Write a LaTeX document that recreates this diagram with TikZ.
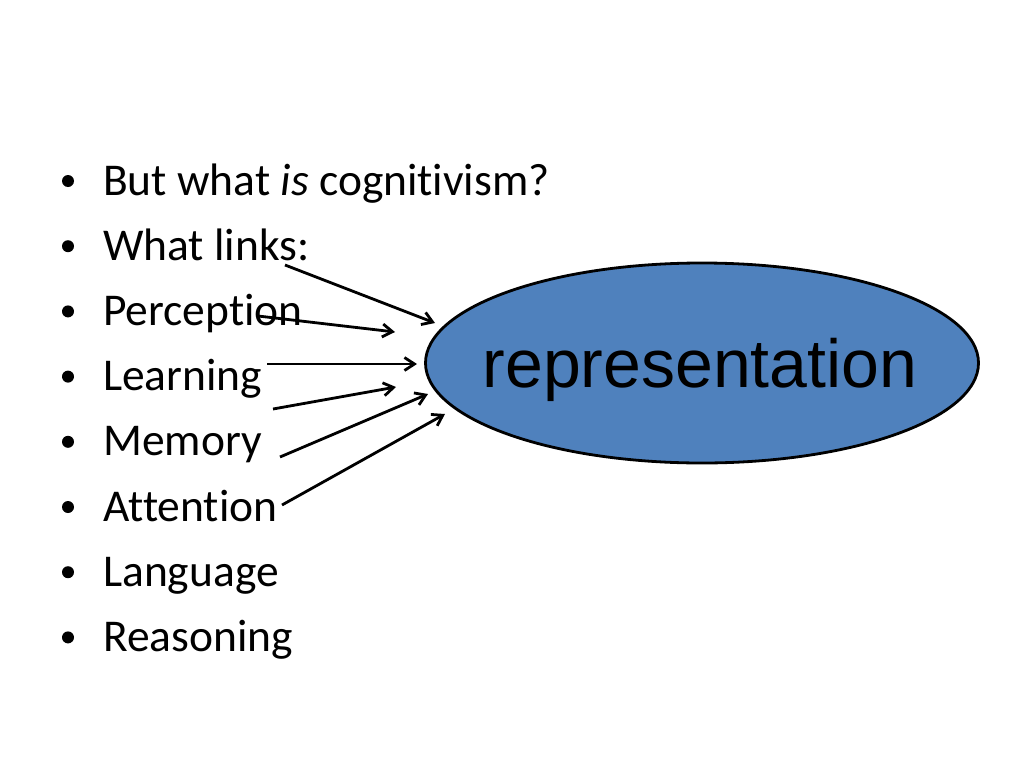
\documentclass[tikz,border=0pt]{standalone}
\usepackage{fontspec}
\setmainfont[RawFeature={-liga;-clig}]{Carlito}
\newfontfamily\arialfont{Liberation Sans}
\usetikzlibrary{arrows.meta,shapes.geometric}
\definecolor{ellblue}{HTML}{4F81BD}
\begin{document}
\begin{tikzpicture}[x=1pt,y=-1pt,
  itemtext/.style={anchor=base west,inner sep=0pt,font=\fontsize{45.5}{54}\selectfont},
  bulletdot/.style={circle,fill=black,inner sep=0pt,minimum size=12pt},
  link/.style={line width=2.8pt,-{Straight Barb[length=10pt,width=13pt,line width=2.8pt]}}]
\useasboundingbox (0,0) rectangle (1024,768);
\fill[white] (0,0) rectangle (1024,768);
% bullets and items
\foreach \i/\t [count=\k from 0] in {a/{But what \textit{is} cognitivism?},b/{What links:},c/{Perception},d/{Learning},e/{Memory},f/{Attention},g/{Language},h/{Reasoning}}{
  \node[itemtext] (item\i) at (103,{195+65.2*\k}) {\t};
  \node[bulletdot] (bul\i) at (68,{181+65.2*\k}) {};
}
% ellipse
\node[ellipse,draw=black,line width=2.8pt,fill=ellblue,minimum width=553pt,minimum height=200pt,inner sep=0pt]
  (rep) at (702,363) {};
\node[font=\arialfont\fontsize{68}{80}\selectfont,anchor=base,inner sep=0pt] (reptext) at (700,387) {representation};
% arrow coordinates
\coordinate (s1) at (285,265); \coordinate (e1) at (435,323);
\coordinate (s2) at (258,316); \coordinate (e2) at (395,332);
\coordinate (s3) at (267,364); \coordinate (e3) at (417,364);
\coordinate (s4) at (273,409); \coordinate (e4) at (396,387);
\coordinate (s5) at (280,457); \coordinate (e5) at (428,394);
\coordinate (s6) at (282,505); \coordinate (e6) at (445,414);
\foreach \n in {1,...,6}{\draw[link] (s\n) -- (e\n);}
\end{tikzpicture}
\end{document}
